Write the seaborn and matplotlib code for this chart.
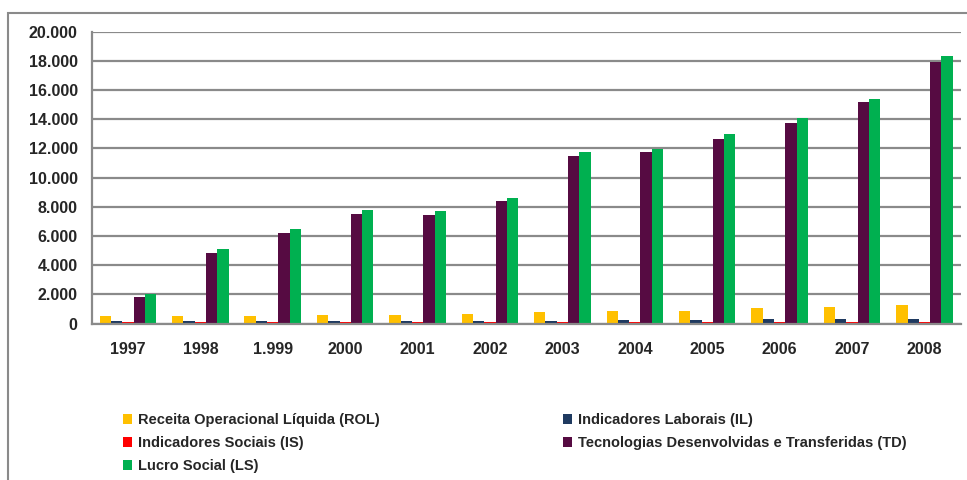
import matplotlib
matplotlib.use("Agg")
import matplotlib.pyplot as plt
from matplotlib.patches import Patch, Rectangle
from matplotlib.ticker import FuncFormatter, FixedLocator
import seaborn as sns
import pandas as pd

# Anos e séries (valores em R$ milhões)
anos = ["1997", "1998", "1.999", "2000", "2001", "2002",
        "2003", "2004", "2005", "2006", "2007", "2008"]
series = [
    "Receita Operacional Líquida (ROL)",
    "Indicadores Laborais (IL)",
    "Indicadores Sociais (IS)",
    "Tecnologias Desenvolvidas e Transferidas (TD)",
    "Lucro Social (LS)",
]
rol = [500, 510, 500, 580, 580, 660, 770, 850, 850, 1030, 1120, 1280]
il = [160, 160, 160, 160, 160, 160, 170, 230, 230, 320, 320, 340]
is_ = [70, 70, 70, 70, 70, 70, 70, 70, 70, 70, 70, 70]
td = [1830, 4800, 6220, 7530, 7430, 8410, 11470, 11730, 12680, 13750, 15170, 17930]
ls = [1990, 5080, 6490, 7780, 7700, 8580, 11730, 11970, 12960, 14100, 15420, 18320]
cores = ["#FFC000", "#1F3A60", "#FF0000", "#560B42", "#00B050"]

valores = [rol, il, is_, td, ls]
df = pd.DataFrame(
    [(ano, serie, v) for serie, vals in zip(series, valores) for ano, v in zip(anos, vals)],
    columns=["ano", "serie", "valor"],
)

sns.set_style("white")
plt.rcParams["font.family"] = ["Liberation Sans", "DejaVu Sans"]
plt.rcParams["font.weight"] = "bold"

cinza = "#8A8A8A"

fig = plt.figure(figsize=(9.67, 4.8), dpi=100)
ax = fig.add_axes([91.7 / 967, 1 - 323.5 / 480, (960.7 - 91.7) / 967, (323.5 - 31.8) / 480])

sns.barplot(
    data=df, x="ano", y="valor", hue="serie", order=anos, hue_order=series,
    palette=cores, width=0.78, gap=0, saturation=1, legend=False, ax=ax,
    edgecolor="none", linewidth=0,
)

ax.set_xlim(-0.5, len(anos) - 0.5)
ax.set_ylim(0, 20000)
ax.set_yticks(range(0, 20001, 2000))
ax.yaxis.set_major_formatter(FuncFormatter(lambda v, p: f"{int(v):,}".replace(",", ".")))
ax.grid(axis="y", color=cinza, linewidth=1.6)
ax.set_axisbelow(True)
ax.set_xlabel("")
ax.set_ylabel("")

for s in ["top", "right"]:
    ax.spines[s].set_visible(False)
for s in ["left", "bottom"]:
    ax.spines[s].set_color(cinza)
    ax.spines[s].set_linewidth(1.6)

# Marcas do eixo x nas divisões entre anos
ax.xaxis.set_minor_locator(FixedLocator([i - 0.5 for i in range(len(anos) + 1)]))
ax.tick_params(axis="x", which="major", length=0, pad=13, labelsize=11.5)
ax.tick_params(axis="x", which="minor", length=4, width=1.5, color=cinza, direction="out")
ax.tick_params(axis="y", length=3.6, width=1.5, color=cinza, pad=6.5, labelsize=11.5)
for lab in ax.get_xticklabels() + ax.get_yticklabels():
    lab.set_fontweight("bold")

# Moldura externa do gráfico
fig.add_artist(Rectangle((7.5 / 967, -0.1), 1.2, 1.1 - 12.7 / 480,
                         transform=fig.transFigure, fill=False,
                         edgecolor=cinza, linewidth=1.5))

# Legenda em duas colunas
def legenda(idx, x_px):
    handles = [Patch(facecolor=cores[i], edgecolor="none", label=series[i]) for i in idx]
    return fig.legend(
        handles=handles, loc="upper left",
        bbox_to_anchor=(x_px / 967, 1 - 413 / 480),
        frameon=False, borderpad=0, borderaxespad=0,
        handlelength=0.62, handleheight=0.62, handletextpad=0.4,
        labelspacing=0.62, prop={"size": 10.5, "weight": "bold"},
    )

legenda([0, 2, 4], 122.7)
legenda([1, 3], 562.8)

fig.savefig("out.png", dpi=100, facecolor="white")
